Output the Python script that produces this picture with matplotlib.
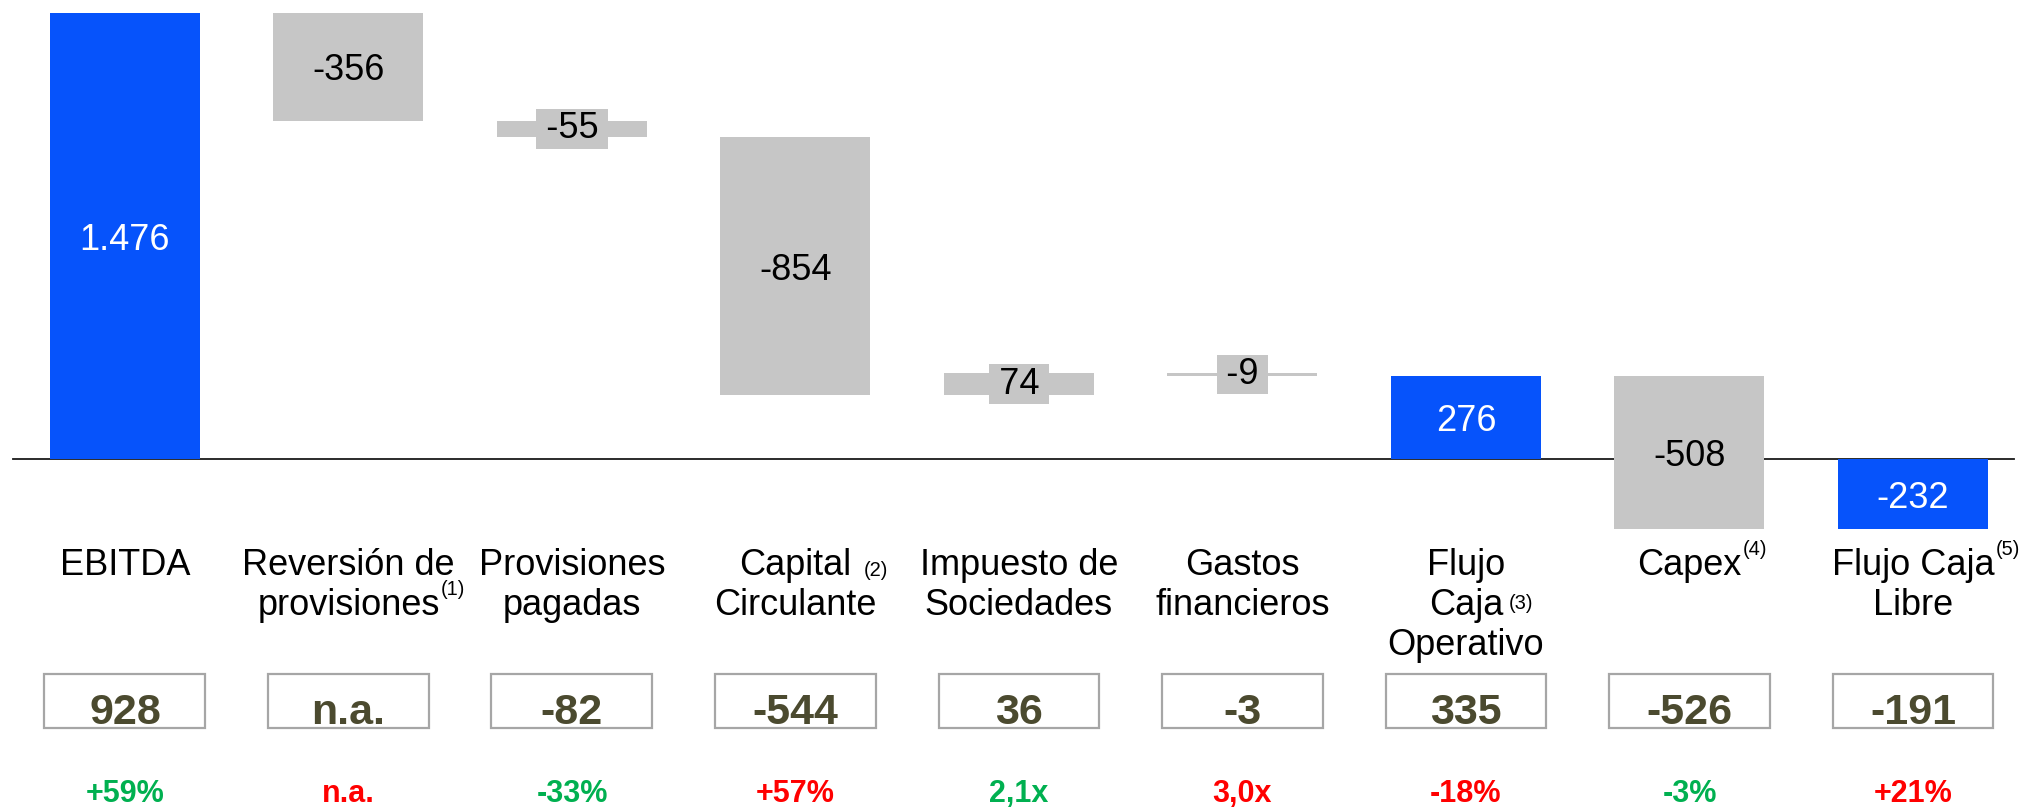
import matplotlib
matplotlib.use('Agg')
import matplotlib.pyplot as plt
from matplotlib.patches import Rectangle

plt.rcParams['font.family'] = ['Liberation Sans', 'DejaVu Sans']

# datos del grafico (millones)
categorias = [['EBITDA'], ['Reversión de', 'provisiones'], ['Provisiones', 'pagadas'],
              ['Capital', 'Circulante'], ['Impuesto de', 'Sociedades'], ['Gastos', 'financieros'],
              ['Flujo', 'Caja', 'Operativo'], ['Capex'], ['Flujo Caja', 'Libre']]
# nota: (linea, texto, tipo)
notas = [None, (1, '(1)', 'sup'), None, (0, '(2)', 'sub'), None, None,
         (1, '(3)', 'mid'), (0, '(4)', 'sup'), (0, '(5)', 'sup')]
valores = [1476, -356, -55, -854, 74, -9, 276, -508, -232]
es_total = [True, False, False, False, False, False, True, False, True]
valores_anterior = ['928', 'n.a.', '-82', '-544', '36', '-3', '335', '-526', '-191']
variacion = ['+59%', 'n.a.', '-33%', '+57%', '2,1x', '3,0x', '-18%', '-3%', '+21%']
variacion_buena = [True, False, True, False, True, False, False, True, False]

AZUL = '#0653FB'
GRIS = '#C6C6C6'
VERDE = '#00B050'
ROJO = '#FF0000'
OLIVA = '#4B4A2F'

H = 809


def fy(px):
    # posicion vertical en pixeles desde arriba -> fraccion de ejes
    return 1 - px / H


def fmt(v):
    return f"{v:,}".replace(',', '.')


# bases del waterfall
bases = []
acum = 0
for v, tot in zip(valores, es_total):
    if tot:
        bases.append(0)
        acum = v
    else:
        bases.append(acum)
        acum += v

fig = plt.figure(figsize=(20.31, 8.09), dpi=100)
ax = fig.add_axes([0, 0, 1, 1])
ax.set_xlim(-0.559, 8.528)
ax.set_ylim(-1158, 1519)
ax.axis('off')

x = list(range(len(valores)))
colores = [AZUL if t else GRIS for t in es_total]
ax.axhline(0, 0.0064, 0.9916, color='#1a1a1a', lw=1.3, zorder=1)
ax.bar(x, valores, bottom=bases, width=0.671, color=colores, zorder=2)

# etiquetas de valor dentro de las barras
for i, (v, b, tot) in enumerate(zip(valores, bases, es_total)):
    color_txt = 'white' if tot else 'black'
    if abs(v) < 100:
        # barras finas: etiqueta con fondo gris encima
        ax.text(i, b + v / 2, '\u2009' + fmt(v) + '\u2009', ha='center', va='center',
                fontsize=26, color=color_txt, zorder=3,
                bbox=dict(boxstyle='square,pad=0.06', fc=GRIS, ec='none'))
    else:
        ax.annotate(fmt(v), xy=(i, b + v / 2), xytext=(0, -3), textcoords='offset points',
                    ha='center', va='center', fontsize=26, color=color_txt, zorder=3)

trans = ax.get_xaxis_transform()

# nombres de categoria
for i, lineas in enumerate(categorias):
    objs = []
    for j, linea in enumerate(lineas):
        t = ax.text(i, fy(575 + 40 * j), linea, transform=trans, ha='center',
                    va='baseline', fontsize=26)
        objs.append(t)
    if notas[i]:
        j, txt, tipo = notas[i]
        if tipo == 'sup':
            ax.annotate(txt, xy=(1, 1), xycoords=objs[j], xytext=(1, 6),
                        textcoords='offset points', ha='left', va='top', fontsize=14.5)
        elif tipo == 'sub':
            ax.annotate(txt, xy=(1, 0), xycoords=objs[j], xytext=(9, 2),
                        textcoords='offset points', ha='left', va='bottom', fontsize=14.5)
        else:
            ax.annotate(txt, xy=(1, 0.55), xycoords=objs[j], xytext=(4, 0),
                        textcoords='offset points', ha='left', va='center', fontsize=14.5)

# valores del periodo anterior en recuadros
for i, txt in enumerate(valores_anterior):
    ax.add_patch(Rectangle((i - 0.36, fy(728)), 0.72, 54 / H, transform=trans,
                           fill=False, ec='#A6A6A6', lw=1.6))
    ax.text(i, fy(724), txt, transform=trans, ha='center', va='baseline',
            fontsize=31, fontweight='bold', color=OLIVA)

# variaciones
for i, (txt, buena) in enumerate(zip(variacion, variacion_buena)):
    ax.text(i, fy(802), txt, transform=trans, ha='center', va='baseline',
            fontsize=22, fontweight='bold', color=VERDE if buena else ROJO)

fig.savefig('out.png', dpi=100)
